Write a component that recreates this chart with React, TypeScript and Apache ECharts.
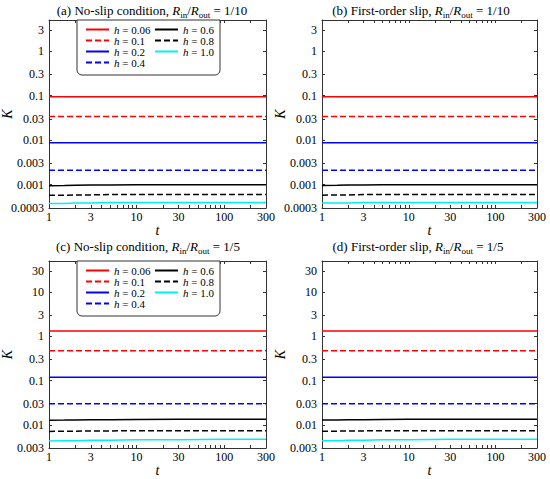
import React, { useEffect, useRef } from "react";
import * as echarts from "echarts";

// ---------- data ----------
const tValues = [1, 1.5, 2, 3, 5, 10, 30, 100, 300];
const hNames = ["0.06", "0.1", "0.2", "0.4", "0.6", "0.8", "1.0"];
const legendOrder = ["0.06", "0.6", "0.1", "0.8", "0.2", "1.0", "0.4"];

// (a) No-slip, Rin/Rout = 1/10 ; rows follow hNames, columns follow tValues
const kNoSlip10 = [
  [0.095, 0.095, 0.095, 0.095, 0.095, 0.095, 0.095, 0.095, 0.095],
  [0.034, 0.034, 0.034, 0.034, 0.034, 0.034, 0.034, 0.034, 0.034],
  [0.0088, 0.0088, 0.0088, 0.0088, 0.0088, 0.0088, 0.0088, 0.0088, 0.0088],
  [0.0021, 0.0021, 0.0021, 0.0021, 0.0021, 0.0021, 0.0021, 0.0021, 0.0021],
  [0.00095, 0.00096, 0.00097, 0.00098, 0.00099, 0.001, 0.001, 0.001, 0.001],
  [0.00058, 0.00058, 0.00059, 0.00059, 0.0006, 0.0006, 0.0006, 0.0006, 0.0006],
  [0.00038, 0.00038, 0.00039, 0.00039, 0.0004, 0.0004, 0.0004, 0.0004, 0.0004],
];
// (b) First-order slip, 1/10
const kSlip10 = [
  [0.095, 0.095, 0.095, 0.095, 0.095, 0.095, 0.095, 0.095, 0.095],
  [0.034, 0.034, 0.034, 0.034, 0.034, 0.034, 0.034, 0.034, 0.034],
  [0.0088, 0.0088, 0.0088, 0.0088, 0.0088, 0.0088, 0.0088, 0.0088, 0.0088],
  [0.0021, 0.0021, 0.0021, 0.0021, 0.0021, 0.0021, 0.0021, 0.0021, 0.0021],
  [0.00096, 0.00097, 0.00098, 0.00099, 0.001, 0.001, 0.001, 0.001, 0.001],
  [0.00058, 0.00059, 0.00059, 0.0006, 0.0006, 0.0006, 0.0006, 0.0006, 0.0006],
  [0.00039, 0.00039, 0.00039, 0.0004, 0.0004, 0.0004, 0.0004, 0.0004, 0.0004],
];
// (c) No-slip, 1/5
const kNoSlip5 = [
  [1.32, 1.32, 1.32, 1.32, 1.32, 1.32, 1.32, 1.32, 1.32],
  [0.47, 0.47, 0.47, 0.47, 0.47, 0.47, 0.47, 0.47, 0.47],
  [0.119, 0.119, 0.119, 0.119, 0.119, 0.119, 0.119, 0.119, 0.119],
  [0.03, 0.03, 0.03, 0.03, 0.03, 0.03, 0.03, 0.03, 0.03],
  [0.0127, 0.0128, 0.0129, 0.013, 0.0131, 0.0132, 0.0133, 0.0134, 0.0134],
  [0.0071, 0.0072, 0.0072, 0.0073, 0.0073, 0.0074, 0.0074, 0.0074, 0.0074],
  [0.0043, 0.0044, 0.0044, 0.0045, 0.0045, 0.0046, 0.0046, 0.0047, 0.0047],
];
// (d) First-order slip, 1/5
const kSlip5 = [
  [1.32, 1.32, 1.32, 1.32, 1.32, 1.32, 1.32, 1.32, 1.32],
  [0.47, 0.47, 0.47, 0.47, 0.47, 0.47, 0.47, 0.47, 0.47],
  [0.119, 0.119, 0.119, 0.119, 0.119, 0.119, 0.119, 0.119, 0.119],
  [0.03, 0.03, 0.03, 0.03, 0.03, 0.03, 0.03, 0.03, 0.03],
  [0.0128, 0.0129, 0.013, 0.0131, 0.0132, 0.0133, 0.0134, 0.0134, 0.0134],
  [0.0072, 0.0072, 0.0073, 0.0073, 0.0074, 0.0074, 0.0074, 0.0074, 0.0074],
  [0.0044, 0.0044, 0.0045, 0.0045, 0.0046, 0.0046, 0.0047, 0.0047, 0.0047],
];

const xLabels = [1, 3, 10, 30, 100, 300];
const xTicks = [2, 3, 4, 5, 6, 7, 8, 9, 10, 20, 30, 40, 50, 60, 70, 80, 90, 100, 200, 300];
const yLabelsTop = ["0.0003", "0.001", "0.003", "0.01", "0.03", "0.1", "0.3", "1", "3"];
const yLabelsBottom = ["0.003", "0.01", "0.03", "0.1", "0.3", "1", "3", "10", "30"];
const yRangeTop = [0.0003, 5];
const yRangeBottom = [0.003, 50];
const xRange = [1, 300];

// ---------- styles ----------
const hColors = ["#ff0000", "#ff0000", "#0000ff", "#0000ff", "#000000", "#000000", "#00f0f0"];
const hDashed = [false, true, false, true, false, true, false];
const FONT = "'Liberation Serif', 'Times New Roman', serif";
const AX = "#333333";
const LOG = (v: number) => Math.log10(v);

const tickRich = { a: { fontFamily: FONT, fontSize: 12, color: "#000" } };

const panels = [
  { grid: { left: 49, top: 20, width: 217, height: 188 }, data: kNoSlip10, yLabels: yLabelsTop, yRange: yRangeTop,
    title: "(a) No-slip condition, {i|R}{s|in}/{i|R}{s|out} = 1/10", tx: 152, ty: 1, legend: true },
  { grid: { left: 322, top: 20, width: 215, height: 188 }, data: kSlip10, yLabels: yLabelsTop, yRange: yRangeTop,
    title: "(b) First-order slip, {i|R}{s|in}/{i|R}{s|out} = 1/10", tx: 421, ty: 1, legend: false },
  { grid: { left: 49, top: 261, width: 217, height: 187 }, data: kNoSlip5, yLabels: yLabelsBottom, yRange: yRangeBottom,
    title: "(c) No-slip condition, {i|R}{s|in}/{i|R}{s|out} = 1/5", tx: 148, ty: 237, legend: true },
  { grid: { left: 322, top: 261, width: 215, height: 187 }, data: kSlip5, yLabels: yLabelsBottom, yRange: yRangeBottom,
    title: "(d) First-order slip, {i|R}{s|in}/{i|R}{s|out} = 1/5", tx: 418, ty: 237, legend: false },
];

function buildOption() {
  const grid: any[] = [];
  const xAxis: any[] = [];
  const yAxis: any[] = [];
  const series: any[] = [];
  const title: any[] = [];
  const legend: any[] = [];

  panels.forEach((p, pi) => {
    grid.push({ ...p.grid, containLabel: false, outerBoundsMode: "none" });
    const xMin = LOG(xRange[0]);
    const xMax = LOG(xRange[1]);
    const yMin = LOG(p.yRange[0]);
    const yMax = LOG(p.yRange[1]);
    const yVals = p.yLabels.map((s) => LOG(parseFloat(s)));
    const lineStyle = { color: AX, width: 1 };

    const xLabel = {
      customValues: xLabels.map(LOG), margin: 3,
      fontFamily: FONT, fontSize: 12, color: "#000", rich: tickRich,
      formatter: (v: number) => "{a|" + String(Math.round(Math.pow(10, v))) + "}",
    };
    const yLabel = {
      customValues: yVals, margin: 5,
      fontFamily: FONT, fontSize: 12, color: "#000", rich: tickRich,
      formatter: (v: number) => {
        const f = p.yLabels.find((s) => Math.abs(LOG(parseFloat(s)) - v) < 1e-6);
        return f ? "{a|" + f + "}" : "";
      },
    };

    xAxis.push({
      type: "value", gridIndex: pi, position: "bottom", min: xMin, max: xMax,
      name: "t", nameLocation: "middle", nameGap: 15, nameMoveOverlap: false,
      nameTextStyle: { fontFamily: FONT, fontStyle: "italic", fontSize: 14, color: "#000" },
      axisLine: { show: true, onZero: false, lineStyle },
      axisTick: { show: true, inside: true, length: 3, customValues: xTicks.map(LOG), lineStyle },
      axisLabel: { show: true, ...xLabel },
      splitLine: { show: false },
    });
    xAxis.push({
      type: "value", gridIndex: pi, position: "top", min: xMin, max: xMax,
      axisLine: { show: true, onZero: false, lineStyle },
      axisTick: { show: true, inside: true, length: 3, customValues: xTicks.map(LOG), lineStyle },
      axisLabel: { show: false, ...xLabel },
      splitLine: { show: false },
    });
    yAxis.push({
      type: "value", gridIndex: pi, position: "left", min: yMin, max: yMax,
      name: "K", nameLocation: "middle", nameGap: 35, nameMoveOverlap: false,
      nameTextStyle: { fontFamily: FONT, fontStyle: "italic", fontSize: 14, color: "#000" },
      axisLine: { show: true, onZero: false, lineStyle },
      axisTick: { show: true, inside: true, length: 3, customValues: yVals, lineStyle },
      axisLabel: { show: true, ...yLabel },
      splitLine: { show: false },
    });
    yAxis.push({
      type: "value", gridIndex: pi, position: "right", min: yMin, max: yMax,
      axisLine: { show: true, onZero: false, lineStyle },
      axisTick: { show: true, inside: true, length: 3, customValues: yVals, lineStyle },
      axisLabel: { show: false, ...yLabel },
      splitLine: { show: false },
    });

    title.push({
      text: p.title, left: p.tx, top: p.ty, textAlign: "center", padding: 0,
      textStyle: {
        fontFamily: FONT, fontSize: 13, fontWeight: "normal", color: "#000", lineHeight: 18,
        rich: {
          i: { fontFamily: FONT, fontSize: 13, fontStyle: "italic", color: "#000", lineHeight: 18 },
          s: { fontFamily: FONT, fontSize: 9, color: "#000", lineHeight: 10, verticalAlign: "bottom" },
        },
      },
    });

    hNames.forEach((h, j) => {
      series.push({
        type: "line", name: "h = " + h, xAxisIndex: 2 * pi, yAxisIndex: 2 * pi,
        data: tValues.map((t, k) => [LOG(t), LOG(p.data[j][k])]),
        symbol: "none", showSymbol: false, smooth: false,
        lineStyle: { color: hColors[j], width: 1.5, type: hDashed[j] ? [6, 3] : "solid" },
        itemStyle: { color: hColors[j] },
        emphasis: { disabled: true },
      });
    });

    if (p.legend) {
      legend.push({
        show: true, orient: "horizontal", left: 77, top: p.grid.top, width: 140,
        padding: [4, 0, 7, 8], itemGap: 0, itemWidth: 23, itemHeight: 8,
        borderColor: AX, borderWidth: 1, borderRadius: [0, 0, 5, 5],
        backgroundColor: "#ffffff", selectedMode: false,
        itemStyle: { opacity: 0, color: "transparent", borderWidth: 0 },
        data: legendOrder.map((h, idx) => ({ name: "h = " + h, textStyle: { width: idx % 2 === 0 ? 40 : 37 } })),
        formatter: (name: string) => "{i|h}{n|" + name.slice(1) + "}",
        textStyle: {
          fontFamily: FONT, fontSize: 11, lineHeight: 11, color: "#000", width: 40,
          rich: {
            i: { fontFamily: FONT, fontSize: 11, lineHeight: 11, fontStyle: "italic", color: "#000" },
            n: { fontFamily: FONT, fontSize: 11, lineHeight: 11, color: "#000" },
          },
        },
      });
    }
  });

  return {
    animation: false,
    backgroundColor: "#ffffff",
    textStyle: { fontFamily: FONT, color: "#000" },
    title, legend, grid, xAxis, yAxis, series,
  };
}

export default function App() {
  const ref = useRef<HTMLDivElement>(null);
  useEffect(() => {
    document.body.style.margin = "0";
    if (!ref.current) return;
    const chart = echarts.init(ref.current, undefined, { renderer: "svg" });
    chart.setOption(buildOption() as any);
    // make sure every SVG text of the chart uses the serif family
    ref.current.querySelectorAll("text").forEach((t) => {
      (t as SVGTextElement).style.setProperty("font-family", FONT, "important");
    });
    return () => chart.dispose();
  }, []);
  return (
    <>
      <style>{`.k-chart svg text { font-family: 'Liberation Serif', 'Times New Roman', serif !important; }`}</style>
      <div className="k-chart" ref={ref} style={{ width: 550, height: 479 }} />
    </>
  );
}
